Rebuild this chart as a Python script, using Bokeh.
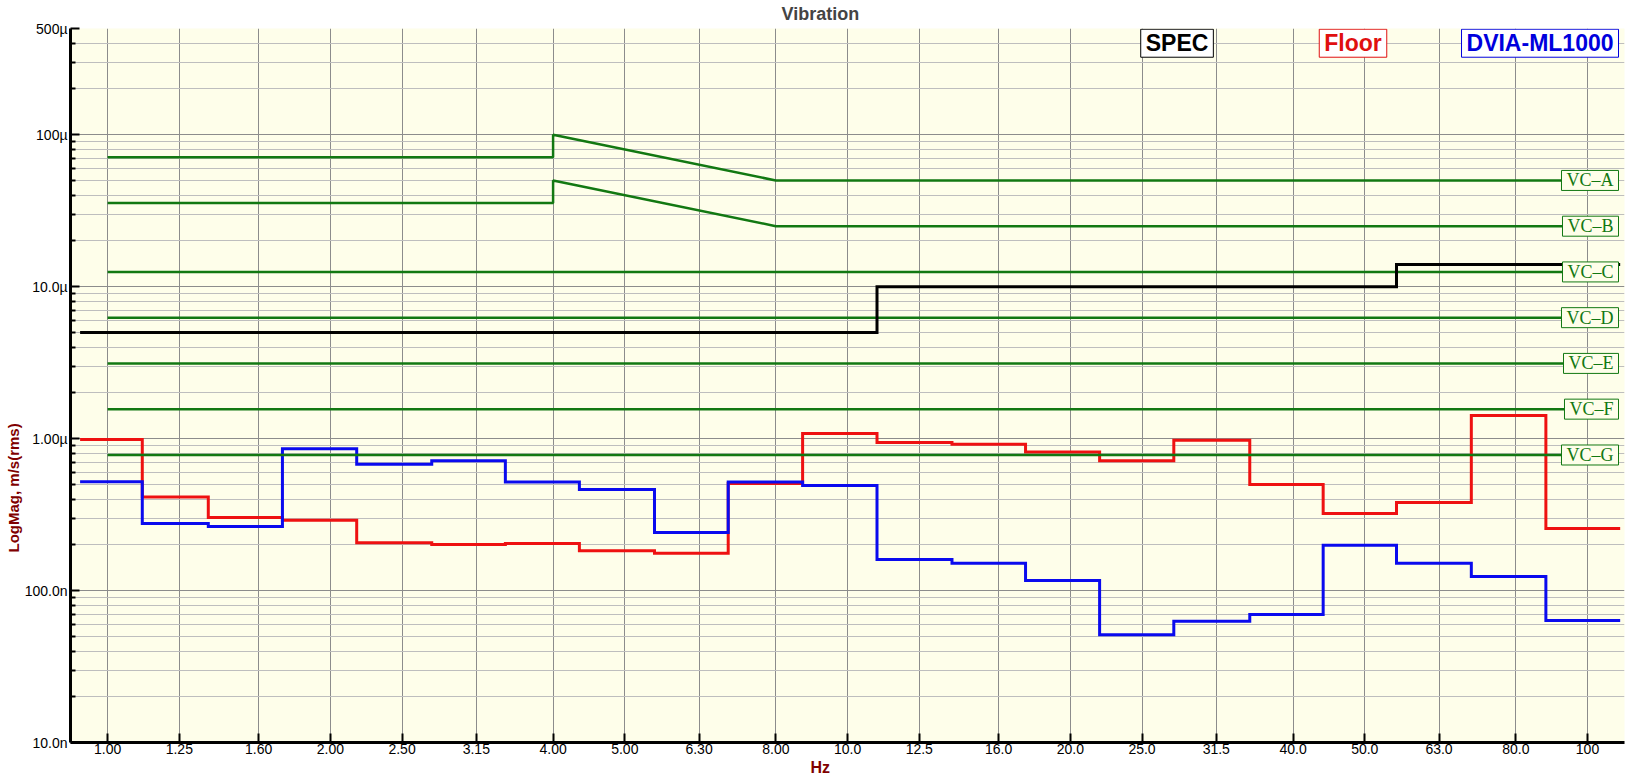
from bokeh.plotting import figure
from bokeh.models import Range1d, FixedTicker, Label, Title
from bokeh.embed import file_html
from bokeh.resources import INLINE

# 1/3 octave band centres (Hz) and their tick labels
bands = [1.0, 1.25, 1.6, 2.0, 2.5, 3.15, 4.0, 5.0, 6.3, 8.0, 10.0,
         12.5, 16.0, 20.0, 25.0, 31.5, 40.0, 50.0, 63.0, 80.0, 100.0]
band_labels = ["1.00", "1.25", "1.60", "2.00", "2.50", "3.15", "4.00", "5.00", "6.30", "8.00", "10.0",
               "12.5", "16.0", "20.0", "25.0", "31.5", "40.0", "50.0", "63.0", "80.0", "100"]

# where the analyser draws the band steps (Hz)
edges = [0.918, 1.114, 1.368, 1.723, 2.171, 2.742, 3.448, 4.341, 5.484, 6.898, 8.695,
         10.96, 13.84, 17.40, 21.91, 27.60, 34.96, 43.93, 55.19, 69.66, 87.85, 110.7]

# band levels, m/s rms
floor = [0.985e-6, 0.413e-6, 0.302e-6, 0.290e-6, 0.206e-6, 0.201e-6, 0.204e-6, 0.183e-6, 0.176e-6, 0.506e-6, 1.079e-6,
         0.942e-6, 0.917e-6, 0.816e-6, 0.716e-6, 0.975e-6, 0.498e-6, 0.321e-6, 0.380e-6, 1.42e-6, 0.256e-6]
dvia = [0.521e-6, 0.276e-6, 0.264e-6, 0.859e-6, 0.678e-6, 0.716e-6, 0.518e-6, 0.462e-6, 0.241e-6, 0.518e-6, 0.491e-6,
        0.160e-6, 0.151e-6, 0.1164e-6, 0.0511e-6, 0.0628e-6, 0.0695e-6, 0.1986e-6, 0.151e-6, 0.1236e-6, 0.0636e-6]
spec = [5e-6, 5e-6, 5e-6, 5e-6, 5e-6, 5e-6, 5e-6, 5e-6, 5e-6, 5e-6, 5e-6,
        10e-6, 10e-6, 10e-6, 10e-6, 10e-6, 10e-6, 10e-6, 14e-6, 14e-6, 14e-6]

# vibration criteria curves
vc_names = ["VC\u2013A", "VC\u2013B", "VC\u2013C", "VC\u2013D", "VC\u2013E", "VC\u2013F", "VC\u2013G"]
vc_freq = [[1.0, 4.0, 4.0, 8.0, 100.0],
           [1.0, 4.0, 4.0, 8.0, 100.0],
           [1.0, 100.0], [1.0, 100.0], [1.0, 100.0], [1.0, 100.0], [1.0, 100.0]]
vc_vals = [[71e-6, 71e-6, 100e-6, 50e-6, 50e-6],
           [35.5e-6, 35.5e-6, 50e-6, 25e-6, 25e-6],
           [12.5e-6, 12.5e-6], [6.25e-6, 6.25e-6], [3.125e-6, 3.125e-6],
           [1.5625e-6, 1.5625e-6], [0.78e-6, 0.78e-6]]

y_ticks = [1e-8, 1e-7, 1e-6, 1e-5, 1e-4, 5e-4]
y_labels = ["10.0n", "100.0n", "1.00\u00b5", "10.0\u00b5", "100\u00b5", "500\u00b5"]
y_minor = [m * 10.0 ** e for e in range(-8, -4) for m in range(2, 10)] + [2e-4, 3e-4, 4e-4]

X0, X1 = 0.891, 112.2
Y0, Y1 = 1e-8, 5e-4

BG = "#FEFEEA"
GREEN = "#127812"
LABEL_RED = "#800000"
FONT = "Liberation Sans"

p = figure(width=1628, height=777, x_axis_type="log", y_axis_type="log",
           x_range=Range1d(X0, X1), y_range=Range1d(Y0, Y1),
           toolbar_location=None, output_backend="svg",
           min_border_left=70, min_border_right=4, min_border_top=27, min_border_bottom=35)
p.background_fill_color = BG
p.border_fill_color = "white"
p.outline_line_color = None

p.title.text = "Vibration"
p.title.align = "left"
p.title.vertical_align = "top"
p.title.offset = 711
p.title.standoff = 6
p.title.text_font = FONT
p.title.text_font_size = "18px"
p.title.text_font_style = "bold"

# axes
xt = FixedTicker(ticks=bands, minor_ticks=[])
p.xaxis.ticker = xt
p.xgrid.ticker = xt
p.xaxis.major_label_overrides = dict(zip(bands, band_labels))
yt = FixedTicker(ticks=y_ticks, minor_ticks=y_minor)
p.yaxis.ticker = yt
p.ygrid.ticker = yt
p.yaxis.major_label_overrides = dict(zip(y_ticks, y_labels))

for ax in (p.xaxis, p.yaxis):
    ax.axis_line_color = "black"
    ax.axis_line_width = 3
    ax.major_tick_line_color = "black"
    ax.major_tick_line_width = 2
    ax.major_tick_in = 9
    ax.major_tick_out = 0
    ax.minor_tick_line_color = "black"
    ax.minor_tick_line_width = 2
    ax.minor_tick_in = 5
    ax.minor_tick_out = 0
    ax.major_label_text_font = FONT
    ax.major_label_text_font_size = "14px"
    ax.major_label_text_color = "black"
p.xaxis.major_label_standoff = 1
p.yaxis.major_label_standoff = 3

p.add_layout(Title(text="Hz", align="left", offset=740, standoff=0, text_font=FONT,
                   text_font_size="16px", text_font_style="bold", text_color=LABEL_RED), "below")
p.add_layout(Title(text="LogMag, m/s(rms)", align="left", offset=190, standoff=0, text_font=FONT,
                   text_font_size="15px", text_font_style="bold", text_color=LABEL_RED), "left")

p.xgrid.grid_line_color = "#8C8C8C"
p.ygrid.grid_line_color = "#8C8C8C"
p.ygrid.minor_grid_line_color = "#BEBEBE"

# measured band steps
p.step(edges, floor + floor[-1:], mode="after", line_color="#EE1111", line_width=3, line_join="miter")
p.step(edges, dvia + dvia[-1:], mode="after", line_color="#0A0AEE", line_width=3, line_join="miter")

for f, v in zip(vc_freq, vc_vals):
    p.line(f, v, line_color=GREEN, line_width=2.5)

p.step(edges, spec + spec[-1:], mode="after", line_color="black", line_width=3, line_join="miter")

# criterion tags at the right end of each curve
for name, v in zip(vc_names, vc_vals):
    p.add_layout(Label(x=X1, y=v[-1], text=name, x_offset=-6, text_align="right", text_baseline="middle",
                       text_font="Liberation Serif", text_font_size="18px", text_color=GREEN,
                       background_fill_color=BG, border_line_color=GREEN, border_line_width=1,
                       padding=(5, 0)))

# series tags along the top
tags = [("SPEC", "black", 24.9, "left"), ("Floor", "#E01010", 43.4, "left"), ("DVIA-ML1000", "#0000DD", X1, "right")]
for name, c, x, align in tags:
    p.add_layout(Label(x=x, y=4.0e-4, text=name, text_align=align, text_baseline="middle",
                       x_offset=-6 if align == "right" else 0,
                       text_font=FONT, text_font_size="23px", text_font_style="bold", text_color=c,
                       background_fill_color="white", border_line_color=c, border_line_width=1,
                       padding=(5, 1)))

open("out.html", "w").write(file_html(p, INLINE))
